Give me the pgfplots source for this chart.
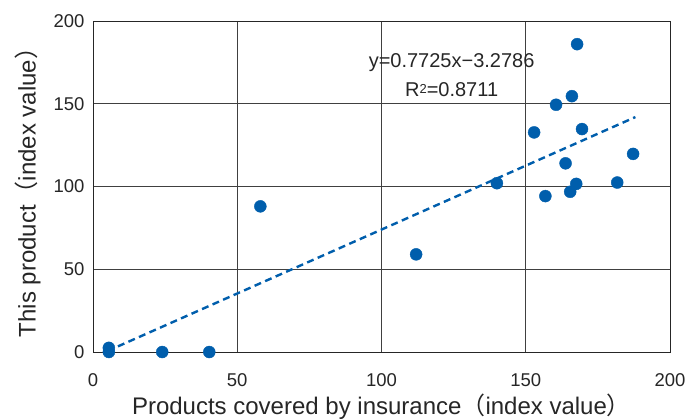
\documentclass[border=0pt]{standalone}
\usepackage{pgfplots}
\pgfplotsset{compat=1.18}
\usepackage{fontspec}
\setmainfont{Liberation Sans}
\newfontfamily\cjk{Noto Sans CJK JP}
\definecolor{dotblue}{RGB}{0,94,172}
\begin{document}
\begin{tikzpicture}
\begin{axis}[
 scale only axis, width=577pt, height=331pt,
 xmin=0,xmax=200,ymin=0,ymax=200,
 xtick={0,50,...,200}, ytick={0,50,...,200},
 grid=major, major grid style={black!75, line width=0.7pt},
 axis line style={black!85, line width=0.8pt},
 tick style={draw=none},
 /pgf/number format/assume math mode=true,
 ticklabel style={font=\fontsize{18.5}{18.5}\selectfont, text=black!85},
 xticklabel style={anchor=center, yshift=-28pt},
 yticklabel style={anchor=east, xshift=-5pt},
 xlabel={Products covered by insurance{\cjk （}index value{\cjk ）}},
 ylabel={This product{\cjk （}index value{\cjk ）}},
 label style={font=\fontsize{24}{24}\selectfont, text=black!85},
 xlabel style={at={(axis description cs:0.5,-0.164)}, anchor=center},
 ylabel style={at={(axis description cs:-0.113,0.5)}, anchor=center},
 clip=false,
]
\coordinate (SW) at (rel axis cs:0,0);
\coordinate (NE) at (rel axis cs:1,1);
\addplot[dotblue, line width=2.4pt, dash pattern=on 7pt off 4.5pt] coordinates {(5,0.584) (188,141.95)};
\addplot[only marks, mark=*, mark size=6pt, dotblue, mark options={draw=dotblue, fill=dotblue}] coordinates {
(5.5,2.5) (5.5,0) (24,0) (40.3,0) (58,88) (112,59) (140,102)
(167.8,186) (166,154.6) (160.5,149.4) (152.9,132.7) (169.5,134.7)
(187.2,119.7) (163.8,114) (181.7,102.4) (167.5,101.6) (165.4,96.8) (156.8,94.2)
};
\node[font=\fontsize{20}{20}\selectfont, text=black!85] at (axis cs:124.3,174.7) {y=0.7725x−3.2786};
\node[font=\fontsize{20}{20}\selectfont, text=black!85] at (axis cs:124.3,158.4) {R\raisebox{0.35ex}{\fontsize{13}{13}\selectfont 2}=0.8711};
\end{axis}
\pgfresetboundingbox
\path ([xshift=-93pt,yshift=-66pt]SW) rectangle ([xshift=19pt,yshift=21pt]NE);
\end{tikzpicture}
\end{document}
